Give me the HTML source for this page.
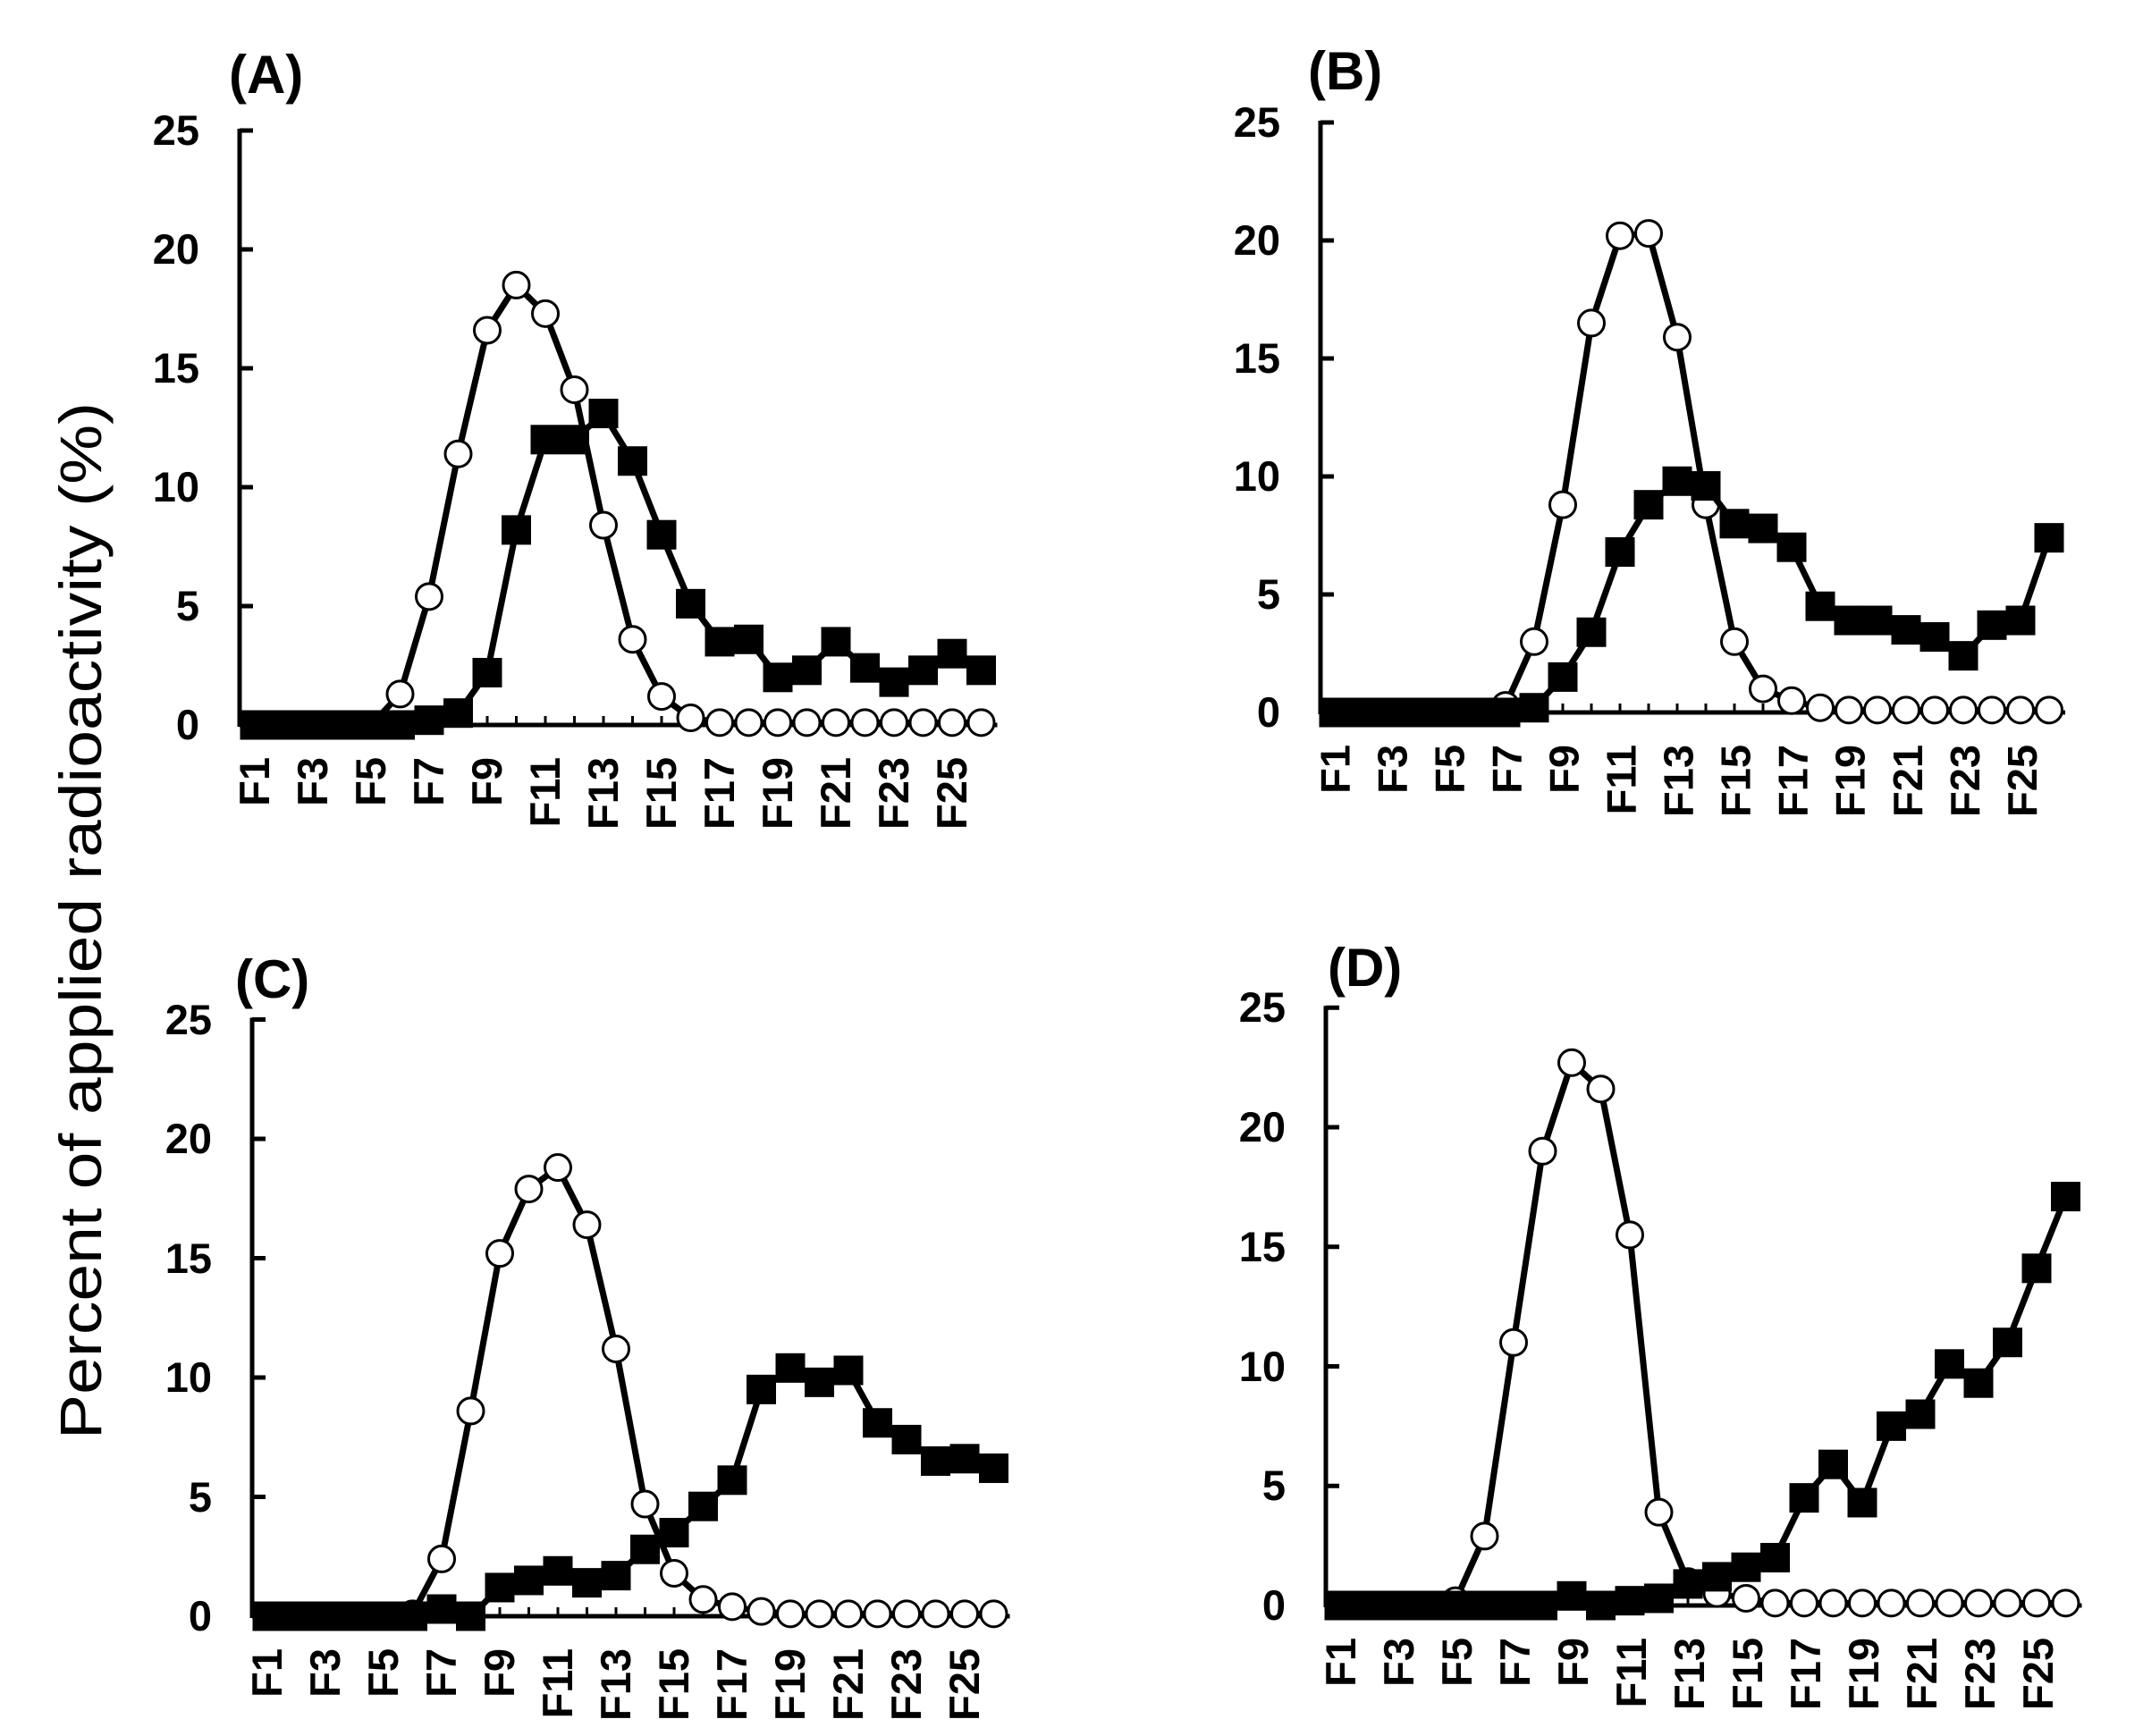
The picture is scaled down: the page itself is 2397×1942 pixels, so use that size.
<!DOCTYPE html>
<html><head><meta charset="utf-8"><style>
html,body{margin:0;padding:0;background:#fff;}
svg{display:block;}
text{font-family:"Liberation Sans",Arial,sans-serif;fill:#000;}
.t{font-size:47px;font-weight:bold;text-anchor:end;}
.f{font-size:47px;font-weight:bold;text-anchor:end;}
.p{font-size:60px;font-weight:bold;}
</style></head><body>
<svg id="s" xmlns="http://www.w3.org/2000/svg" width="2397" height="1942" viewBox="0 0 2397 1942">
<rect width="2397" height="1942" fill="#fff"/>
<text x="0" y="0" transform="translate(113,1030) rotate(-90)" text-anchor="middle" font-size="66" textLength="1160" lengthAdjust="spacingAndGlyphs">Percent of applied radioactivity (%)</text>
<text class="p" x="256" y="104">(A)</text>
<text class="p" x="1463" y="100">(B)</text>
<text class="p" x="263" y="1116">(C)</text>
<text class="p" x="1485" y="1103">(D)</text>
<g id="gA" transform="translate(268,811)">
<text class="t" x="-45" y="16">0</text><text class="t" x="-45" y="-117">5</text><text class="t" x="-45" y="-250">10</text><text class="t" x="-45" y="-383">15</text><text class="t" x="-45" y="-516">20</text><text class="t" x="-45" y="-649">25</text>
</g>
<g id="gB" transform="translate(1477,797)">
<text class="t" x="-45" y="16">0</text><text class="t" x="-45" y="-116">5</text><text class="t" x="-45" y="-248">10</text><text class="t" x="-45" y="-380">15</text><text class="t" x="-45" y="-512">20</text><text class="t" x="-45" y="-644">25</text>
</g>
<g id="gC" transform="translate(282,1808)">
<text class="t" x="-45" y="16">0</text><text class="t" x="-45" y="-117">5</text><text class="t" x="-45" y="-251">10</text><text class="t" x="-45" y="-384">15</text><text class="t" x="-45" y="-518">20</text><text class="t" x="-45" y="-651">25</text>
</g>
<g id="gD" transform="translate(1483,1796)">
<text class="t" x="-45" y="16">0</text><text class="t" x="-45" y="-118">5</text><text class="t" x="-45" y="-251">10</text><text class="t" x="-45" y="-385">15</text><text class="t" x="-45" y="-519">20</text><text class="t" x="-45" y="-653">25</text>
</g>
<g transform="translate(268,811)">
<text class="f" transform="translate(33,36) rotate(-90)">F1</text><text class="f" transform="translate(98,36) rotate(-90)">F3</text><text class="f" transform="translate(163,36) rotate(-90)">F5</text><text class="f" transform="translate(228,36) rotate(-90)">F7</text><text class="f" transform="translate(293,36) rotate(-90)">F9</text><text class="f" transform="translate(358,36) rotate(-90)">F11</text><text class="f" transform="translate(423,36) rotate(-90)">F13</text><text class="f" transform="translate(488,36) rotate(-90)">F15</text><text class="f" transform="translate(553,36) rotate(-90)">F17</text><text class="f" transform="translate(618,36) rotate(-90)">F19</text><text class="f" transform="translate(683,36) rotate(-90)">F21</text><text class="f" transform="translate(748,36) rotate(-90)">F23</text><text class="f" transform="translate(813,36) rotate(-90)">F25</text>
</g>
<g transform="translate(1477,797) scale(0.985,1)">
<text class="f" transform="translate(33,36) rotate(-90)">F1</text><text class="f" transform="translate(98,36) rotate(-90)">F3</text><text class="f" transform="translate(163,36) rotate(-90)">F5</text><text class="f" transform="translate(228,36) rotate(-90)">F7</text><text class="f" transform="translate(293,36) rotate(-90)">F9</text><text class="f" transform="translate(358,36) rotate(-90)">F11</text><text class="f" transform="translate(423,36) rotate(-90)">F13</text><text class="f" transform="translate(488,36) rotate(-90)">F15</text><text class="f" transform="translate(553,36) rotate(-90)">F17</text><text class="f" transform="translate(618,36) rotate(-90)">F19</text><text class="f" transform="translate(683,36) rotate(-90)">F21</text><text class="f" transform="translate(748,36) rotate(-90)">F23</text><text class="f" transform="translate(813,36) rotate(-90)">F25</text>
</g>
<g transform="translate(282,1808)">
<text class="f" transform="translate(33,36) rotate(-90)">F1</text><text class="f" transform="translate(98,36) rotate(-90)">F3</text><text class="f" transform="translate(163,36) rotate(-90)">F5</text><text class="f" transform="translate(228,36) rotate(-90)">F7</text><text class="f" transform="translate(293,36) rotate(-90)">F9</text><text class="f" transform="translate(358,36) rotate(-90)">F11</text><text class="f" transform="translate(423,36) rotate(-90)">F13</text><text class="f" transform="translate(488,36) rotate(-90)">F15</text><text class="f" transform="translate(553,36) rotate(-90)">F17</text><text class="f" transform="translate(618,36) rotate(-90)">F19</text><text class="f" transform="translate(683,36) rotate(-90)">F21</text><text class="f" transform="translate(748,36) rotate(-90)">F23</text><text class="f" transform="translate(813,36) rotate(-90)">F25</text>
</g>
<g transform="translate(1483,1796)">
<text class="f" transform="translate(33,36) rotate(-90)">F1</text><text class="f" transform="translate(98,36) rotate(-90)">F3</text><text class="f" transform="translate(163,36) rotate(-90)">F5</text><text class="f" transform="translate(228,36) rotate(-90)">F7</text><text class="f" transform="translate(293,36) rotate(-90)">F9</text><text class="f" transform="translate(358,36) rotate(-90)">F11</text><text class="f" transform="translate(423,36) rotate(-90)">F13</text><text class="f" transform="translate(488,36) rotate(-90)">F15</text><text class="f" transform="translate(553,36) rotate(-90)">F17</text><text class="f" transform="translate(618,36) rotate(-90)">F19</text><text class="f" transform="translate(683,36) rotate(-90)">F21</text><text class="f" transform="translate(748,36) rotate(-90)">F23</text><text class="f" transform="translate(813,36) rotate(-90)">F25</text>
</g>
</svg>
<script>
var NS="http://www.w3.org/2000/svg";
function el(p,n,a){var e=document.createElementNS(NS,n);for(var k in a)e.setAttribute(k,a[k]);p.appendChild(e);return e;}
var P=[
 {id:"gA",u:26.6,x0:17,dx:32.5,
  c:[0,0,0,0,0,1.3,5.4,11.4,16.6,18.5,17.3,14.1,8.4,3.6,1.2,0.3,0.1,0.1,0.1,0.1,0.1,0.1,0.1,0.1,0.1,0.1],
  s:[0,0,0,0,0,0,0.2,0.5,2.2,8.2,12,12,13.1,11.1,8.0,5.1,3.5,3.6,2.0,2.3,3.5,2.4,1.8,2.3,3.0,2.3]},
 {id:"gB",u:26.4,x0:15,dx:32.0,
  c:[0,0,0,0,0,0,0.3,3.0,8.8,16.5,20.2,20.3,15.9,8.8,3.0,1.0,0.5,0.2,0.1,0.1,0.1,0.1,0.1,0.1,0.1,0.1],
  s:[0,0,0,0,0,0,0,0.2,1.5,3.4,6.8,8.8,9.8,9.6,8.0,7.8,7.0,4.5,3.9,3.9,3.5,3.2,2.4,3.7,3.9,7.4]},
 {id:"gC",u:26.7,x0:17,dx:32.5,
  c:[0,0,0,0,0,0.1,2.4,8.6,15.2,17.9,18.8,16.4,11.2,4.7,1.8,0.7,0.4,0.2,0.1,0.1,0.1,0.1,0.1,0.1,0.1,0.1],
  s:[0,0,0,0,0,0,0.3,0,1.2,1.5,1.9,1.4,1.7,2.8,3.5,4.6,5.7,9.5,10.4,9.8,10.3,8.1,7.4,6.5,6.6,6.2]},
 {id:"gD",u:26.75,x0:15,dx:32.5,
  c:[0,0,0,0,0.2,2.9,11.0,19.0,22.7,21.6,15.5,3.9,1.0,0.5,0.3,0.1,0.1,0.1,0.1,0.1,0.1,0.1,0.1,0.1,0.1,0.1],
  s:[0,0,0,0,0,0,0,0,0.4,0,0.2,0.3,0.9,1.2,1.6,2.0,4.5,5.9,4.3,7.5,8.0,10.1,9.3,11.0,14.1,17.1]}
];
P.forEach(function(p){
 var g=document.getElementById(p.id);
 var xe=p.x0+25*p.dx+18;
 el(g,"line",{x1:0,y1:0,x2:xe,y2:0,stroke:"#000","stroke-width":5});
 el(g,"line",{x1:0,y1:2,x2:0,y2:-25*p.u-2,stroke:"#000","stroke-width":5});
 for(var v=5;v<=25;v+=5)el(g,"line",{x1:0,y1:-v*p.u,x2:15,y2:-v*p.u,stroke:"#000","stroke-width":5});
 for(var i=0;i<26;i++){var x=p.x0+i*p.dx;el(g,"line",{x1:x,y1:0,x2:x,y2:-10,stroke:"#000","stroke-width":3});}
 function pts(a){return a.map(function(v,i){return (p.x0+i*p.dx)+","+(-v*p.u)}).join(" ");}
 el(g,"polyline",{points:pts(p.c),fill:"none",stroke:"#000","stroke-width":7,"stroke-linejoin":"round"});
 p.c.forEach(function(v,i){var x=p.x0+i*p.dx;el(g,"circle",{cx:x,cy:-v*p.u,r:14.5,fill:"#fff",stroke:"#000","stroke-width":3});});
 el(g,"polyline",{points:pts(p.s),fill:"none",stroke:"#000","stroke-width":7,"stroke-linejoin":"round"});
 p.s.forEach(function(v,i){var x=p.x0+i*p.dx;el(g,"rect",{x:x-16.5,y:-v*p.u-16.5,width:33,height:33,fill:"#000"});});
});
</script>
</body></html>
